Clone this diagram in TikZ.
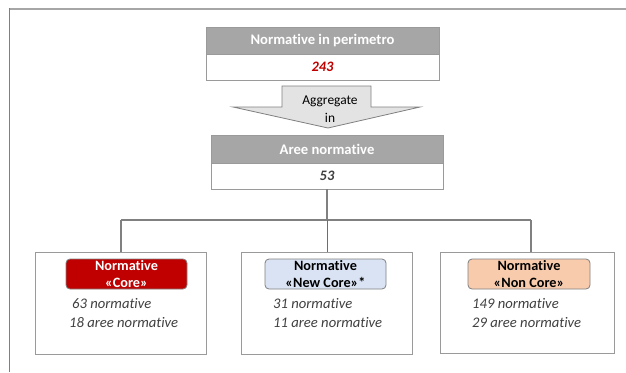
\documentclass[tikz,border=0pt]{standalone}
\usepackage{fontspec}
\setmainfont[Ligatures={NoCommon}]{Carlito}
\definecolor{hdrgray}{HTML}{A6A6A6}
\definecolor{bordgray}{HTML}{9A9A9A}
\definecolor{linegray}{HTML}{808080}
\definecolor{txtgray}{HTML}{404040}
\definecolor{corered}{HTML}{C00000}
\definecolor{newblue}{HTML}{DAE3F3}
\definecolor{noncore}{HTML}{F8CBAD}
\definecolor{arrowfill}{HTML}{E3E3E3}
\definecolor{connblue}{HTML}{4472C4}
\begin{document}
\begin{tikzpicture}[x=1bp,y=-1bp,
  hdr/.style={draw=bordgray, fill=hdrgray, line width=0.8bp, text=white, font=\fontsize{14.7}{16}\selectfont\bfseries, inner sep=0pt},
  valbox/.style={draw=bordgray, fill=white, line width=0.8bp, font=\fontsize{14.5}{16}\selectfont\bfseries\itshape, inner sep=0pt},
  outbox/.style={draw=bordgray, fill=white, line width=1bp, inner sep=0pt},
  lbl/.style={draw=linegray, rounded corners=4bp, line width=0.8bp, inner sep=0pt, minimum height=30bp, align=center, font=\fontsize{14.3}{17}\selectfont\bfseries},
  info/.style={anchor=base west, inner sep=0pt, text=txtgray, font=\fontsize{14.7}{16}\selectfont\itshape},
  conn/.style={draw=linegray, line width=1.1bp},
  shapearrow/.style={draw=linegray, fill=arrowfill, line width=0.8bp}
]
\useasboundingbox (0,0) rectangle (626,372);
% frame
\draw[draw=hdrgray, line width=2bp] (8.5,8.5) -- (626,8.5);
\draw[draw=linegray, line width=1bp] (9.5,8) -- (9.5,372);
% top box
\node[hdr, minimum width=233bp, minimum height=27bp] (hA) at (322.5,40.5) {Normative in perimetro};
\node[valbox, minimum width=233bp, minimum height=26bp, text=corered] (vA) at (322.5,67) {243};
% arrow
\draw[shapearrow] (282,86) -- (371,86) -- (371,107) -- (420,107) -- (328,128) -- (233,107) -- (282,107) -- cycle;
\node[align=center, font=\fontsize{13.5}{18}\selectfont, inner sep=0pt] (agg) at (330,109) {Aggregate\\in};
% second box
\node[hdr, minimum width=232bp, minimum height=28bp] (hB) at (327,149) {Aree normative};
\node[valbox, minimum width=232bp, minimum height=26bp, text=txtgray] (vB) at (327,176) {53};
% bottom boxes
\node[outbox, minimum width=170bp, minimum height=102bp] (b1) at (121,303) {};
\node[outbox, minimum width=171bp, minimum height=102bp] (b2) at (326.5,303) {};
\node[outbox, minimum width=174bp, minimum height=101bp] (b3) at (527,302.5) {};
% connectors
\coordinate (j) at (327,220);
\coordinate (jl) at (121,220);
\coordinate (jr) at (531,220);
\draw[conn, line width=2bp] (vB.south -| j) -- (j);
\draw[conn] (jl) -- (jr);
\draw[conn] (jl) -- (jl |- b1.north);
\draw[conn] (jr) -- (jr |- b3.north);
\draw[draw=connblue, line width=1bp] (j) -- (j |- b2.north);
% labels
\node[lbl, fill=corered, text=white, minimum width=121bp] (l1) at (126.5,274) {Normative\\«Core»};
\node[lbl, fill=newblue, text=black, minimum width=121bp] (l2) at (325.5,274) {Normative\\«New Core»*};
\node[lbl, fill=noncore, text=black, minimum width=122bp] (l3) at (529,274) {Normative\\«Non Core»};
% info texts
\node[info] (t1a) at (72,308) {63 normative};
\node[info] (t1b) at (69,327) {18 aree normative};
\node[info] (t2a) at (273,308) {31 normative};
\node[info] (t2b) at (273,327) {11 aree normative};
\node[info] (t3a) at (472,308) {149 normative};
\node[info] (t3b) at (472,327) {29 aree normative};
\end{tikzpicture}
\end{document}
